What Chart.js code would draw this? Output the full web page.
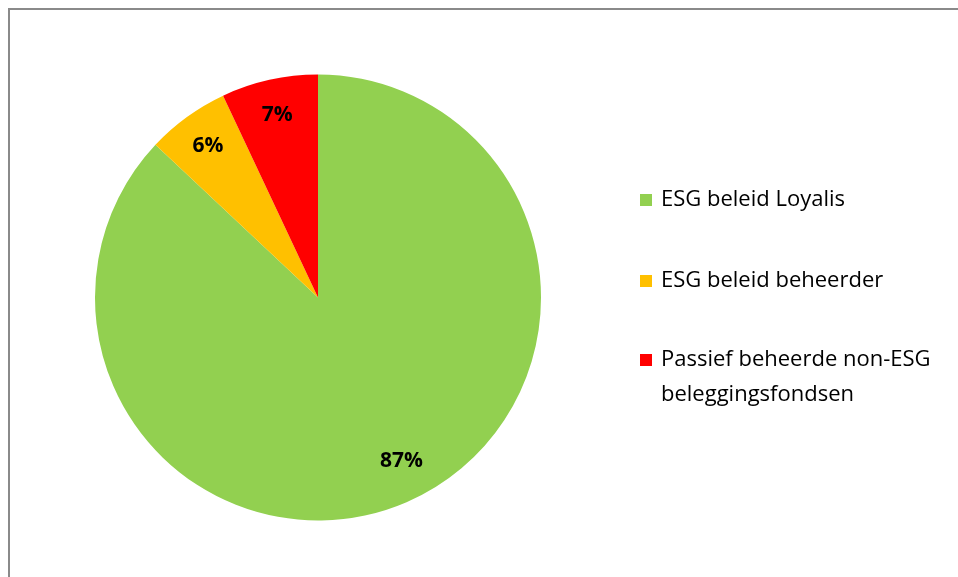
<!DOCTYPE html>
<html>
<head>
<meta charset="utf-8">
<script src="https://cdn.jsdelivr.net/npm/chart.js@4/dist/chart.umd.min.js"></script>
<style>
  html, body { margin: 0; padding: 0; background: #fff; }
  #wrap { position: relative; width: 958px; height: 577px; overflow: hidden; }
  #frame { position: absolute; left: 8px; top: 8px; width: 1000px; height: 1000px;
           border-left: 2px solid #8a8a8a; border-top: 2px solid #8a8a8a; }
  canvas { position: absolute; left: 0; top: 0; }
</style>
</head>
<body>
<div id="wrap">
  <div id="frame"></div>
  <canvas id="grafico" width="958" height="577"></canvas>
</div>
<script>
// data
const categorieen = ['ESG beleid Loyalis', 'ESG beleid beheerder', 'Passief beheerde non-ESG beleggingsfondsen'];
const waarden = [87, 6, 7];
const kleuren = ['#92d050', '#ffc000', '#ff0000'];

const fontFam = '"Open Sans", sans-serif';

// percentages in de taartpunten
const labelPlugin = {
    id: 'labels',
    afterDatasetsDraw(chart) {
        let ctx = chart.ctx;
        let meta = chart.getDatasetMeta(0);
        ctx.save();
        ctx.font = 'bold 21px ' + fontFam;
        ctx.fillStyle = '#000';
        ctx.textAlign = 'center';
        ctx.textBaseline = 'middle';
        let tot = waarden.reduce((a, b) => a + b, 0);
        meta.data.forEach(function(arc, i) {
            let p = arc.getProps(['x', 'y', 'startAngle', 'endAngle', 'outerRadius'], true);
            let mid = (p.startAngle + p.endAngle) / 2;
            let r = p.outerRadius * 0.84;
            let txt = Math.round(waarden[i] / tot * 100) + '%';
            ctx.fillText(txt, p.x + Math.cos(mid) * r + (i === 0 ? 9 : 0), p.y + Math.sin(mid) * r - (i === 0 ? 8 : 0));
        });
        ctx.restore();
    }
};

// legenda rechts
const legendPlugin = {
    id: 'legendaRechts',
    afterDraw(chart) {
        let ctx = chart.ctx;
        ctx.save();
        ctx.font = '22px ' + fontFam;
        ctx.textBaseline = 'middle';
        let x = 661;
        let ys = [200, 281, 360];
        let maxW = 290;
        categorieen.forEach(function(cat, i) {
            ctx.fillStyle = kleuren[i];
            ctx.fillRect(640, ys[i] - 6, 12, 12);
            ctx.fillStyle = '#000';
            let woorden = cat.split(' ');
            let regels = [];
            let regel = '';
            woorden.forEach(function(w) {
                let test = regel ? regel + ' ' + w : w;
                if (ctx.measureText(test).width > maxW && regel) {
                    regels.push(regel);
                    regel = w;
                } else {
                    regel = test;
                }
            });
            regels.push(regel);
            regels.forEach(function(r, j) {
                ctx.fillText(r, x, ys[i] + j * 35);
            });
        });
        ctx.restore();
    }
};

let config = {
    type: 'pie',
    data: {
        labels: categorieen,
        datasets: [{
            data: waarden,
            backgroundColor: kleuren,
            borderWidth: 0
        }]
    },
    options: {
        responsive: false,
        animation: false,
        layout: {padding: {top: 74, bottom: 56, left: 95, right: 417}},
        plugins: {
            legend: {display: false},
            tooltip: {enabled: false}
        }
    },
    plugins: [labelPlugin, legendPlugin]
};

new Chart(document.getElementById('grafico'), config);
</script>
</body>
</html>
